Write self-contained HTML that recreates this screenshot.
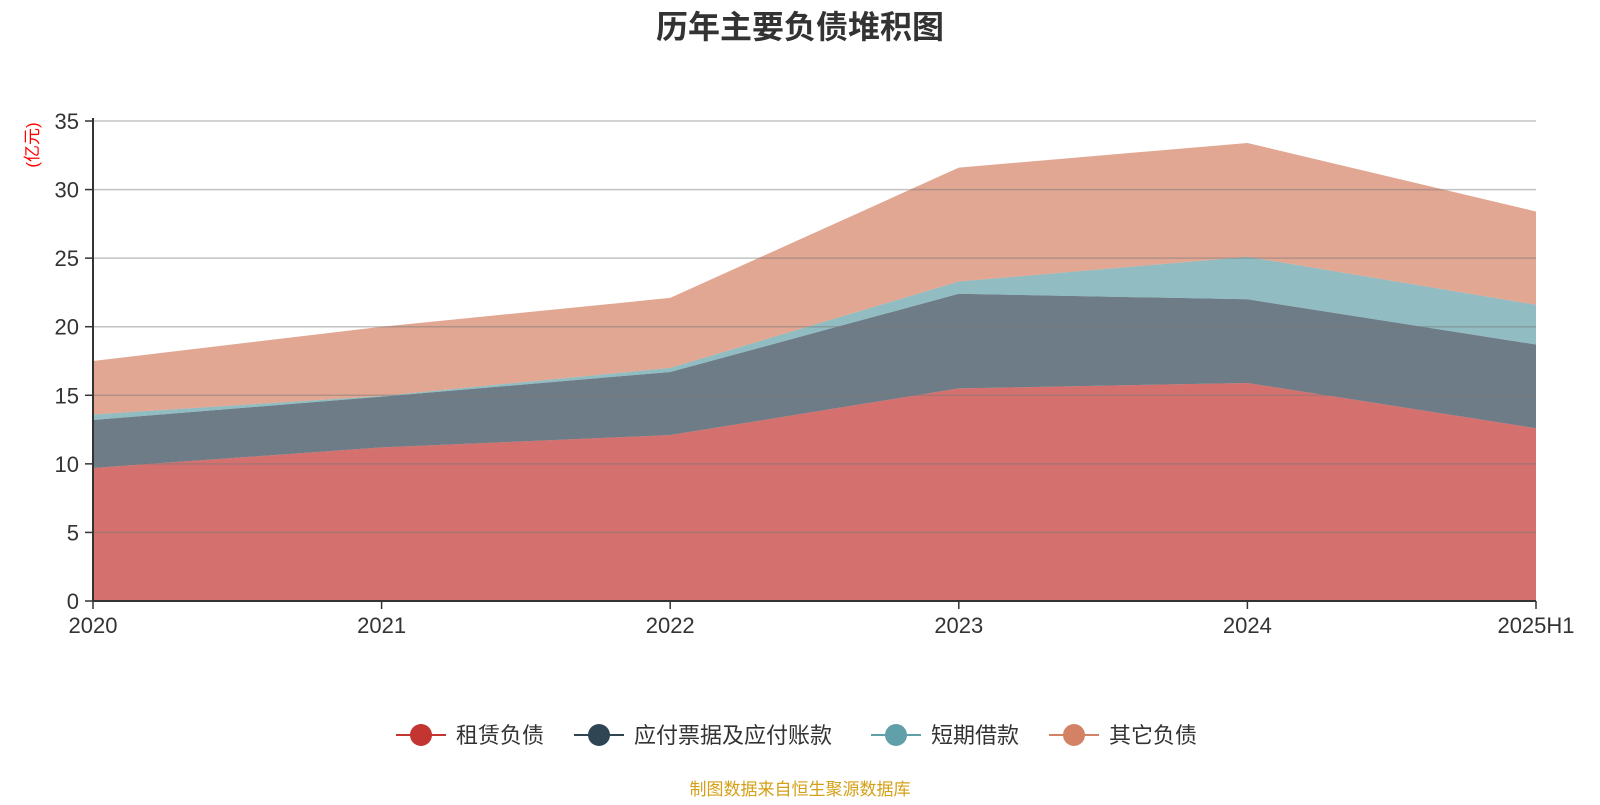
<!DOCTYPE html>
<html><head><meta charset="utf-8">
<style>
body{margin:0;background:#fff;width:1600px;height:800px;overflow:hidden;font-family:"Liberation Sans","Noto Sans CJK SC",sans-serif}
</style></head>
<body>
<svg id="chart" width="1600" height="800" xmlns="http://www.w3.org/2000/svg" font-family="Liberation Sans, Noto Sans CJK SC, sans-serif">
<text x="800" y="38" text-anchor="middle" font-size="32" font-weight="bold" fill="#333">历年主要负债堆积图</text>
<text transform="translate(38,145) rotate(-90)" text-anchor="middle" font-size="17" fill="#ff0000">(亿元)</text>
<g id="areas"></g>
<g id="grid"></g>
<g id="axes"></g>
<g id="legend"></g>
<text x="800" y="795" text-anchor="middle" font-size="17" fill="#d4a017">制图数据来自恒生聚源数据库</text>
</svg>
<script>
const categories=["2020","2021","2022","2023","2024","2025H1"];
const seriesNames=["租赁负债","应付票据及应付账款","短期借款","其它负债"];
const rent=[9.7,11.2,12.1,15.5,15.9,12.6];
const payables=[3.5,3.7,4.6,6.9,6.1,6.1];
const shortLoans=[0.4,0.05,0.3,0.9,3.1,2.9];
const other=[3.9,5.05,5.1,8.3,8.3,6.8];
const yTicks=[0,5,10,15,20,25,30,35];
const colors=["#c23531","#2f4554","#61a0a8","#d48265"];
const X0=93,X1=1536,Y0=601,Y1=121,YMAX=35;
const xs=i=>X0+(X1-X0)*i/(categories.length-1);
const ys=v=>Y0-(Y0-Y1)*v/YMAX;
const NS="http://www.w3.org/2000/svg";
function mk(tag,attrs,parent){const e=document.createElementNS(NS,tag);for(const k in attrs)e.setAttribute(k,attrs[k]);parent.appendChild(e);return e;}
const series=[rent,payables,shortLoans,other];
const areas=document.getElementById('areas');
let base=categories.map(()=>0);
const areaNames=['area-rent','area-payables','area-short-loans','area-other'];
series.forEach((s,k)=>{
  const top=base.map((b,i)=>b+s[i]);
  let d='';
  top.forEach((v,i)=>{d+=(i?'L':'M')+xs(i)+','+ys(v);});
  for(let i=base.length-1;i>=0;i--)d+='L'+xs(i)+','+ys(base[i]);
  const p=mk('path',{d:d+'Z',fill:colors[k],'fill-opacity':0.7},areas);
  
  
  base=top;
});
const grid=document.getElementById('grid'),axes=document.getElementById('axes');
yTicks.forEach(t=>{
  if(t>0){const l=mk('line',{x1:X0,x2:X1,y1:ys(t),y2:ys(t),stroke:'rgba(120,120,120,0.45)','stroke-width':1.5},grid);
  
  }
  const tk=mk('line',{x1:X0-8,x2:X0,y1:ys(t),y2:ys(t),stroke:'#333','stroke-width':1.5},axes);
  
  
  const tx=mk('text',{x:X0-14,y:ys(t)+8,'text-anchor':'end','font-size':22,fill:'#333'},axes);
  tx.textContent=t;
  
  
});
const ya=mk('line',{x1:X0,x2:X0,y1:Y1-3,y2:Y0,stroke:'#333','stroke-width':2},axes);


const xa=mk('line',{x1:X0,x2:X1,y1:Y0,y2:Y0,stroke:'#333','stroke-width':2},axes);


categories.forEach((c,i)=>{
  const tk=mk('line',{x1:xs(i),x2:xs(i),y1:Y0,y2:Y0+8,stroke:'#333','stroke-width':1.5},axes);
  
  
  const tx=mk('text',{x:xs(i),y:633,'text-anchor':'middle','font-size':22,fill:'#333'},axes);
  tx.textContent=c;
  
  
});
const lg=document.getElementById('legend');
const lx=[421,599,896,1074];
seriesNames.forEach((n,k)=>{
  const g=mk('g',{},lg);
  
  
  mk('line',{x1:lx[k]-25,x2:lx[k]+25,y1:735,y2:735,stroke:colors[k],'stroke-width':2},g);
  mk('circle',{cx:lx[k],cy:735,r:11,fill:colors[k]},g);
  const t=mk('text',{x:lx[k]+35,y:743,'font-size':22,fill:'#333'},g);
  t.textContent=n;
});
</script>
</body></html>
